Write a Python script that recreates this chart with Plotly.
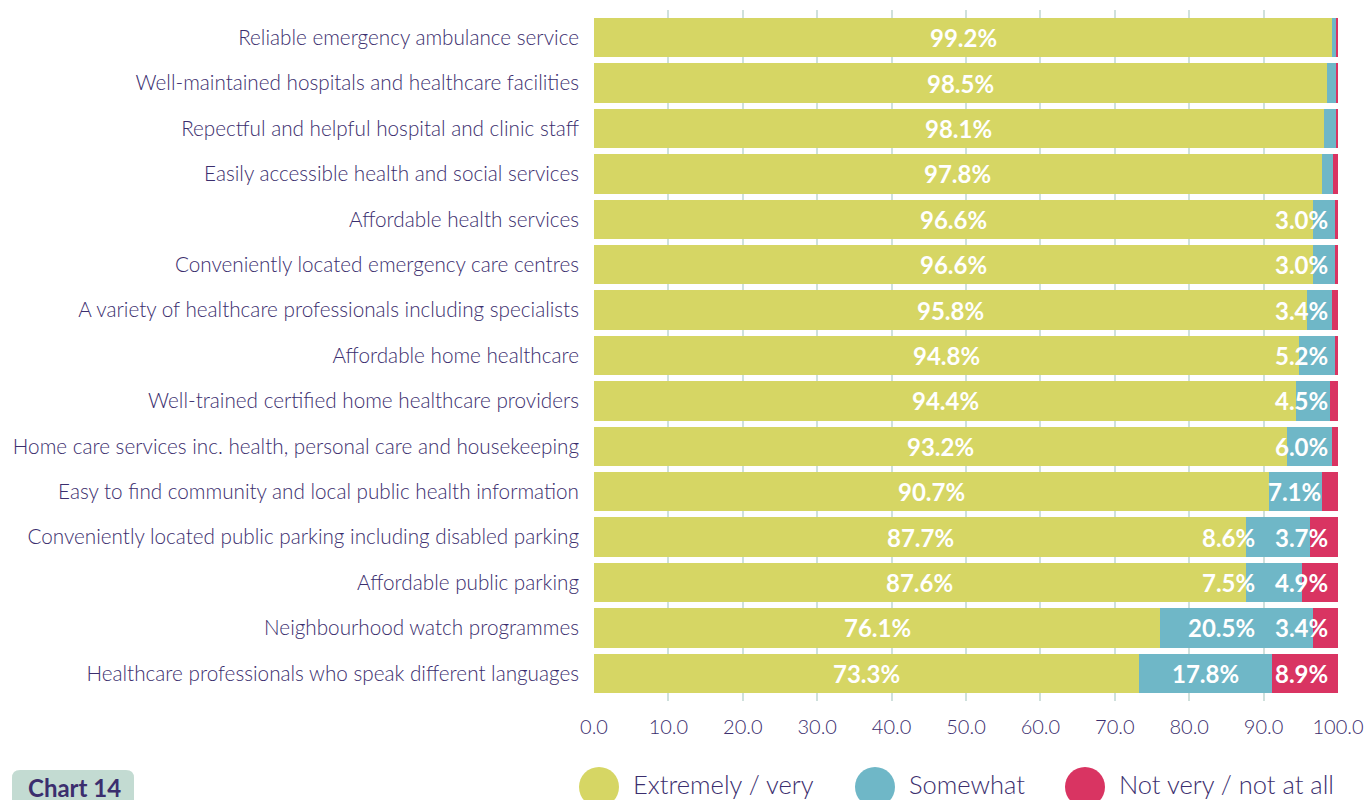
import plotly.graph_objects as go

categories = [
    "Reliable emergency ambulance service",
    "Well-maintained hospitals and healthcare facilities",
    "Repectful and helpful hospital and clinic staff",
    "Easily accessible health and social services",
    "Affordable health services",
    "Conveniently located emergency care centres",
    "A variety of healthcare professionals including specialists",
    "Affordable home healthcare",
    "Well-trained certified home healthcare providers",
    "Home care services inc. health, personal care and housekeeping",
    "Easy to find community and local public health information",
    "Conveniently located public parking including disabled parking",
    "Affordable public parking",
    "Neighbourhood watch programmes",
    "Healthcare professionals who speak different languages",
]
extremely = [99.2, 98.5, 98.1, 97.8, 96.6, 96.6, 95.8, 94.8, 94.4, 93.2, 90.7, 87.7, 87.6, 76.1, 73.3]
somewhat = [0.5, 1.2, 1.6, 1.5, 3.0, 3.0, 3.4, 4.8, 4.5, 6.0, 7.1, 8.6, 7.5, 20.5, 17.8]
somewhat_lbl = [None, None, None, None, "3.0%", "3.0%", "3.4%", "5.2%", "4.5%", "6.0%", "7.1%", "8.6%", "7.5%", "20.5%", "17.8%"]
not_very = [0.3, 0.3, 0.3, 0.7, 0.4, 0.4, 0.8, 0.4, 1.1, 0.8, 2.2, 3.7, 4.9, 3.4, 8.9]
not_very_lbl = [None] * 11 + ["3.7%", "4.9%", "3.4%", "8.9%"]
series_names = ["Extremely / very", "Somewhat", "Not very / not at all"]
x_ticks = [0, 10, 20, 30, 40, 50, 60, 70, 80, 90, 100]

GREEN = "#d6d664"
BLUE = "#6fb7c7"
RED = "#d93462"
PURPLE = "#3b2e6e"
FONT = "Lato"

fig = go.Figure()
for vals, name, col in zip([extremely, somewhat, not_very], series_names, [GREEN, BLUE, RED]):
    fig.add_trace(go.Bar(
        y=categories, x=vals, name=name, orientation="h",
        marker=dict(color=col, line=dict(width=0)),
        showlegend=False, hoverinfo="x+name",
    ))

# value labels
PX_PER_UNIT = 744 / 100.0
def width_units(t):
    return (len(t) * 14.0) / PX_PER_UNIT

ann = []
lab_font = dict(family=FONT, size=24, color="white")
for i, cat in enumerate(categories):
    g = extremely[i]
    ann.append(dict(x=g / 2, y=cat, xref="x", yref="y", text="<b>%.1f%%</b>" % g,
                    showarrow=False, xanchor="center", font=lab_font))
    segs = []
    if somewhat_lbl[i]:
        segs.append((g + somewhat[i] / 2, somewhat_lbl[i]))
    if not_very_lbl[i]:
        segs.append((g + somewhat[i] + not_very[i] / 2, not_very_lbl[i]))
    right_limit = 100 - 1.1
    for center, txt in reversed(segs):
        w = width_units(txt)
        xr = center + w / 2
        if xr > right_limit:
            xr = right_limit
        ann.append(dict(x=xr, y=cat, xref="x", yref="y", text="<b>%s</b>" % txt,
                        showarrow=False, xanchor="right", font=lab_font))
        right_limit = xr - w - 2.3

# legend drawn manually
shapes = []
leg_items = [(599, series_names[0], GREEN), (875, series_names[1], BLUE), (1085, series_names[2], RED)]
W, H = 1365, 800
for cx, name, col in leg_items:
    r = 20
    shapes.append(dict(type="circle", xref="paper", yref="paper",
                       x0=(cx - r - 594) / 744, x1=(cx + r - 594) / 744,
                       y0=(701 - (787 + r)) / 691, y1=(701 - (787 - r)) / 691,
                       fillcolor=col, line=dict(width=0), layer="above"))
    ann.append(dict(x=(cx + 32 - 594) / 744, y=(701 - 784) / 691, xref="paper", yref="paper",
                    text=name, showarrow=False, xanchor="left", yanchor="middle",
                    font=dict(family=FONT, size=25.5, color=PURPLE, weight=300)))

# Chart 14 badge
x0p, x1p = (12 - 594) / 744, (134 - 594) / 744
y0p, y1p = (701 - 812) / 691, (701 - 770) / 691
rx, ry = 8 / 744, 8 / 691
path = (f"M {x0p+rx},{y1p} L {x1p-rx},{y1p} Q {x1p},{y1p} {x1p},{y1p-ry} "
        f"L {x1p},{y0p+ry} Q {x1p},{y0p} {x1p-rx},{y0p} L {x0p+rx},{y0p} "
        f"Q {x0p},{y0p} {x0p},{y0p+ry} L {x0p},{y1p-ry} Q {x0p},{y1p} {x0p+rx},{y1p} Z")
shapes.append(dict(type="path", xref="paper", yref="paper", path=path,
                   fillcolor="#c3dbd2", line=dict(width=0)))
ann.append(dict(x=(74 - 594) / 744, y=(701 - 787) / 691, xref="paper", yref="paper",
                text="<b>Chart 14</b>", showarrow=False, xanchor="center", yanchor="middle",
                font=dict(family=FONT, size=24, color=PURPLE)))

fig.update_layout(
    width=W, height=H,
    barmode="stack", bargap=0.13,
    plot_bgcolor="white", paper_bgcolor="white",
    margin=dict(l=594, r=27, t=10, b=99, autoexpand=False),
    font=dict(family=FONT, color=PURPLE),
    annotations=ann, shapes=shapes,
    xaxis=dict(range=[0, 100], tickvals=x_ticks, ticktext=["%.1f" % v for v in x_ticks],
               showgrid=True, gridcolor="#cfe0dc", gridwidth=2, zeroline=False,
               showline=False, ticks="", ticklabelstandoff=12,
               tickfont=dict(family=FONT, size=20, color=PURPLE, weight=300)),
    yaxis=dict(categoryorder="array", categoryarray=categories, autorange=False,
               range=[14.61, -0.61], showgrid=False, zeroline=False, showline=False,
               ticks="", ticklabelstandoff=14,
               tickfont=dict(family=FONT, size=20.7, color=PURPLE, weight=300)),
)

fig.write_html("out.html", config={"displayModeBar": False},
               post_script="document.body.style.margin='0';document.body.style.overflow='hidden';")
